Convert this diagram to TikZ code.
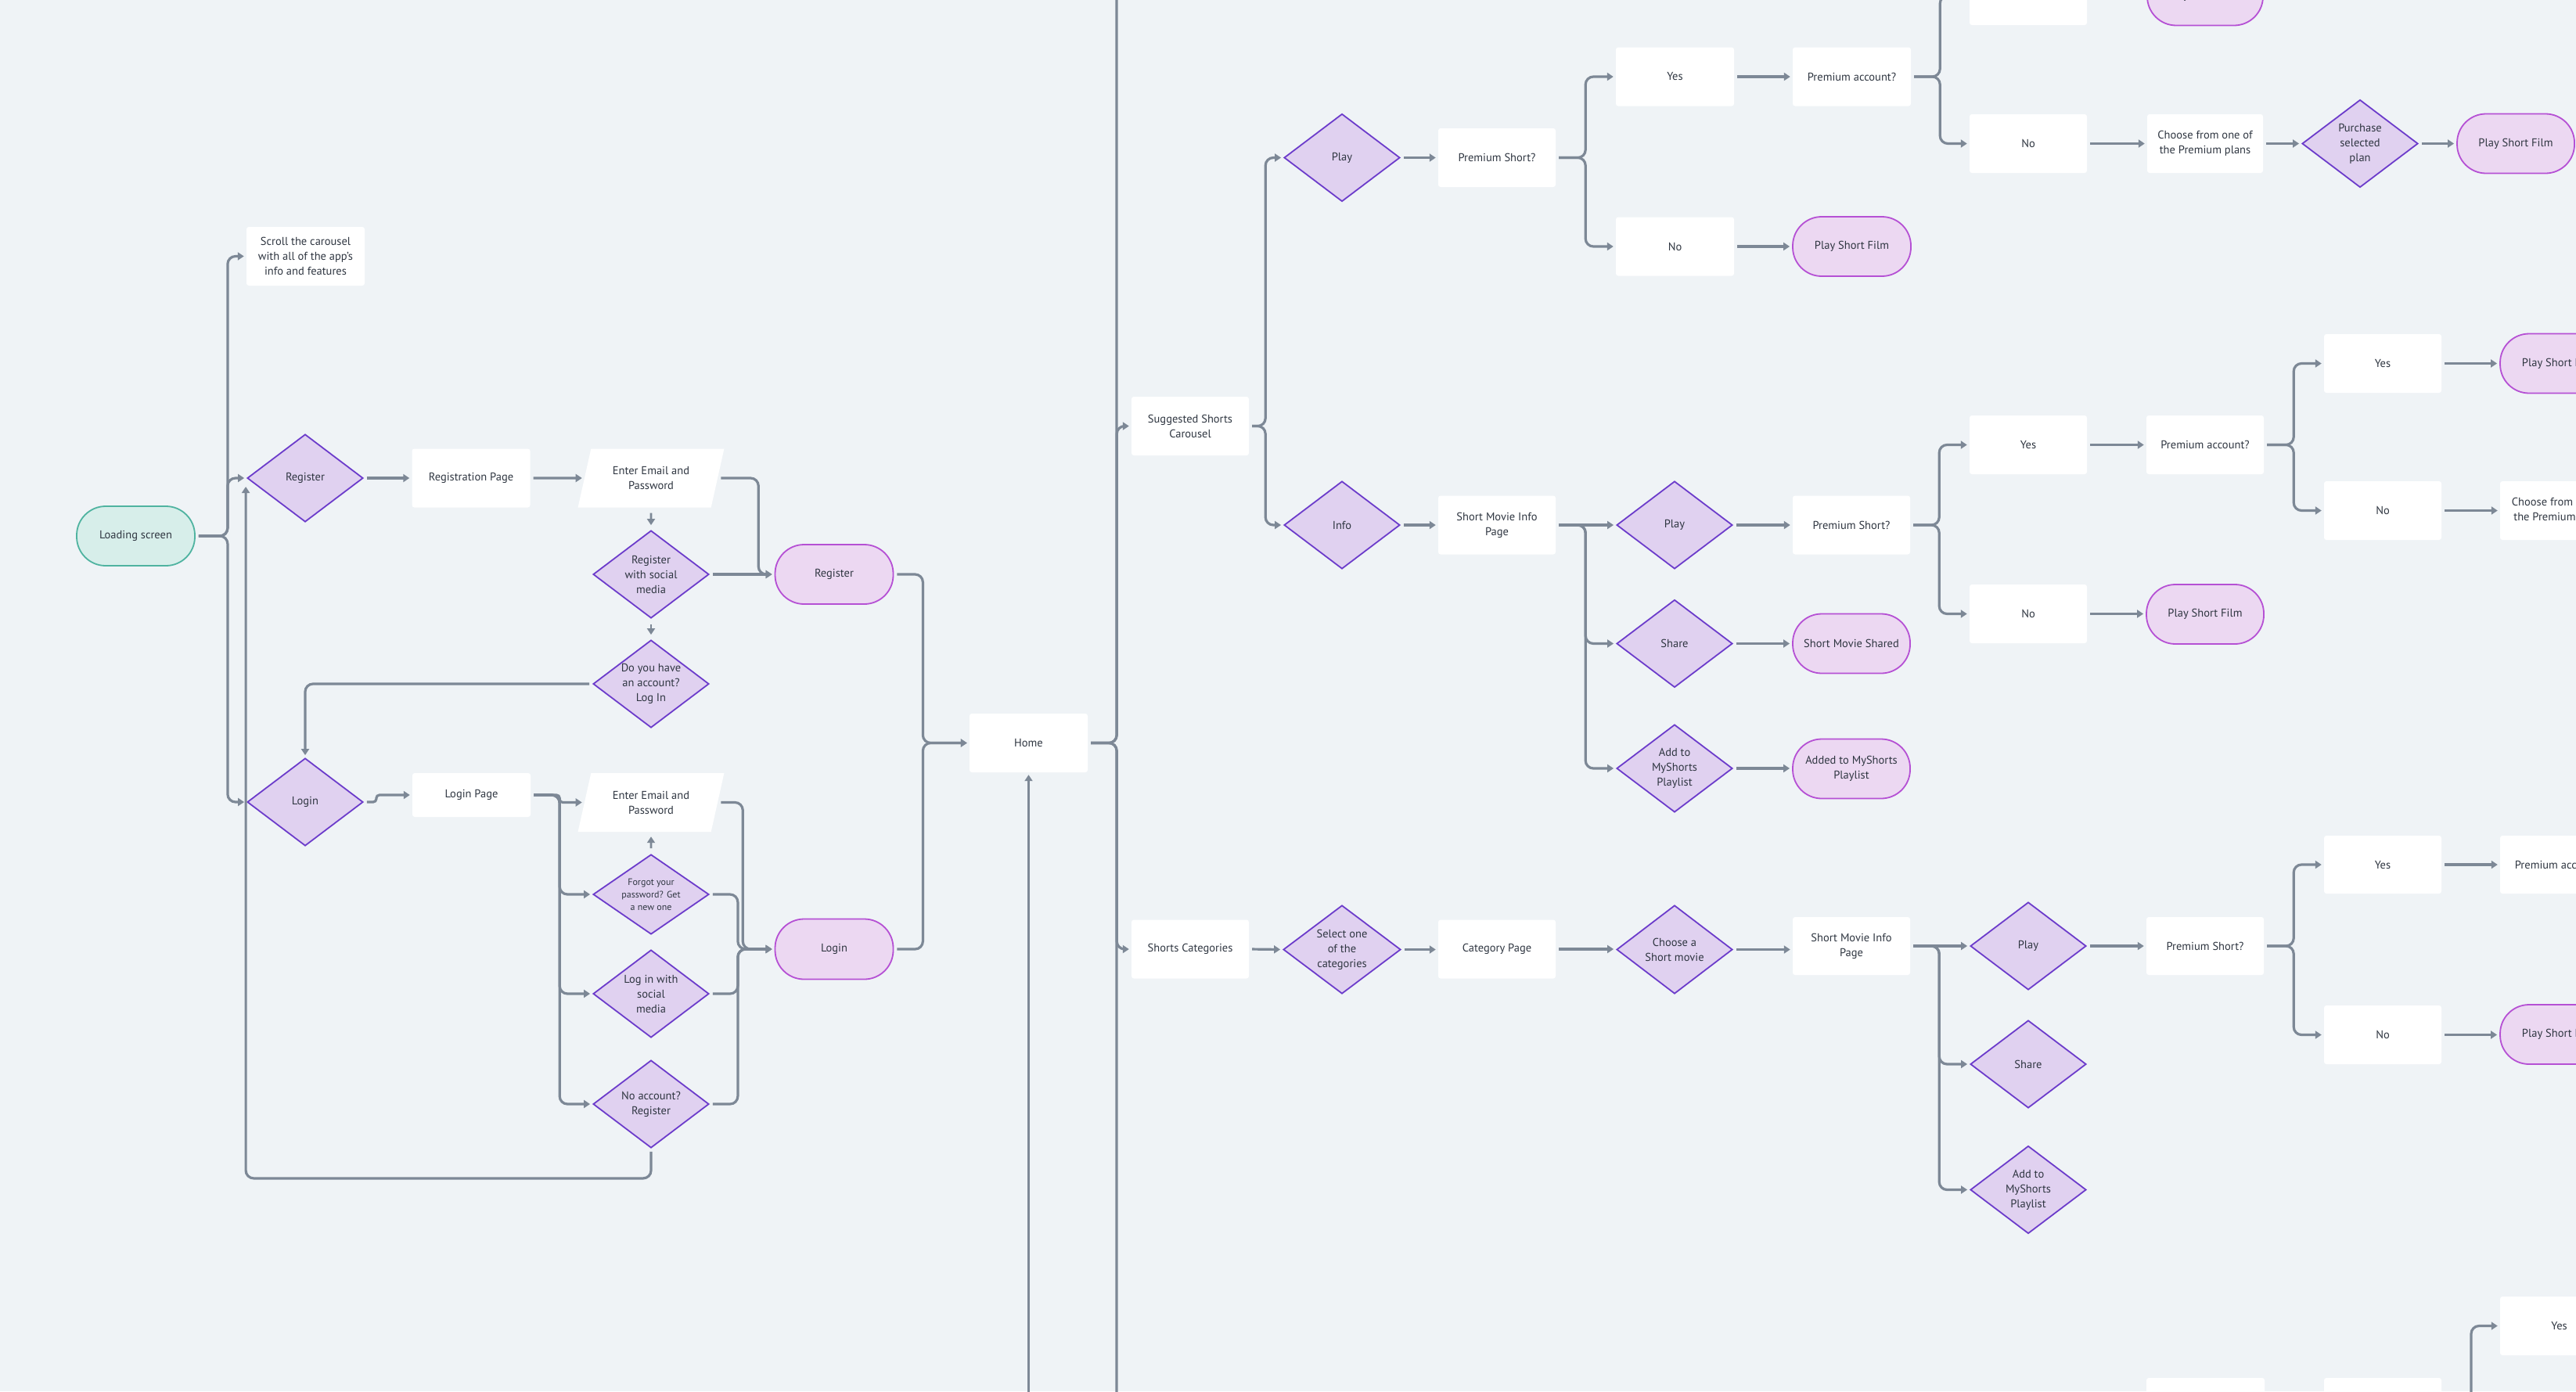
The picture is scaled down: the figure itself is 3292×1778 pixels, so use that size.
\documentclass[tikz,border=0pt]{standalone}
\usepackage{fontspec}
\setmainfont{PT Sans}
\usetikzlibrary{shapes.geometric,arrows.meta,calc}
\definecolor{bgc}{HTML}{EFF3F6}
\definecolor{linec}{HTML}{7D8896}
\definecolor{txtc}{HTML}{2F3641}
\definecolor{dfill}{HTML}{E0D1F0}
\definecolor{ddraw}{HTML}{6C3CCB}
\definecolor{tfill}{HTML}{ECD8F2}
\definecolor{tdraw}{HTML}{B550D4}
\definecolor{gfill}{HTML}{D7EEEA}
\definecolor{gdraw}{HTML}{4FB3A0}
\tikzset{
 base/.style={font=\fontsize{14.5}{19}\selectfont, text=txtc, align=center, inner sep=0pt},
 pagebox/.style={base, rectangle, fill=white, rounded corners=3pt, minimum width=151pt, minimum height=75pt},
 decision/.style={base, diamond, aspect=1.32, fill=dfill, draw=ddraw, line width=1.8pt, minimum width=148pt, minimum height=112pt},
 termnode/.style={base, rectangle, rounded corners=37pt, fill=tfill, draw=tdraw, line width=1.8pt, minimum width=151pt, minimum height=76pt},
 startnode/.style={termnode, fill=gfill, draw=gdraw},
 inputnode/.style={base, trapezium, trapezium left angle=70, trapezium right angle=110, trapezium stretches=true, fill=white, minimum width=187pt, minimum height=75pt},
 conn/.style={draw=linec, line width=3.2pt, rounded corners=10pt, -{Triangle[length=8pt,width=10pt]}, shorten >=3pt, shorten <=4pt},
 trunk/.style={draw=linec, line width=3.2pt, rounded corners=10pt, shorten <=4pt},
 smalltext/.style={font=\fontsize{12}{16}\selectfont},
}
\begin{document}
\begin{tikzpicture}[x=1pt,y=-1pt]
\useasboundingbox (0,0) rectangle (3292,1778);
\clip (0,0) rectangle (3292,1778);
\fill[bgc] (0,0) rectangle (3292,1778);

% ---------- left part: onboarding ----------
\node[startnode] (load) at (173.5,685) {Loading screen};
\node[pagebox] (scroll) at (390.5,327.5) {Scroll the carousel\\with all of the app’s\\info and features};
\node[decision] (reg) at (390,611) {Register};
\node[pagebox] (regpage) at (602,611) {Registration Page};
\node[inputnode] (email1) at (832,611) {Enter Email and\\Password};
\node[decision] (regsoc) at (832,734) {Register\\with social\\media};
\node[decision] (hasacc) at (832,874) {Do you have\\an account?\\Log In};
\node[termnode] (regterm) at (1066,734) {Register};

\node[decision] (login) at (390,1025) {Login};
\node[pagebox, minimum height=56pt] (loginpage) at (602.5,1016) {Login Page};
\node[inputnode] (email2) at (832,1025.5) {Enter Email and\\Password};
\node[decision, smalltext, minimum height=102pt] (forgot) at (832,1143) {Forgot your\\password? Get\\a new one};
\node[decision] (logsoc) at (832,1270) {Log in with\\social\\media};
\node[decision] (noacc) at (832,1411) {No account?\\Register};
\node[termnode, minimum height=77pt] (loginterm) at (1066,1213) {Login};

\node[pagebox] (home) at (1314.5,949.5) {Home};
\coordinate (ttop) at (1427,-30);
\coordinate (tbot) at (1427,1810);
\coordinate (hbot) at (1314.5,1810);

% ---------- suggested carousel ----------
\node[pagebox, minimum width=150pt] (sugg) at (1521,544.5) {Suggested Shorts\\Carousel};
\node[decision] (play1) at (1715,201.5) {Play};
\node[pagebox, minimum width=150pt] (premshort1) at (1913,201.5) {Premium Short?};
\node[pagebox] (yes1) at (2140.5,98) {Yes};
\node[pagebox] (no1) at (2140.5,315) {No};
\node[pagebox] (premacc1) at (2366.5,98) {Premium account?};
\node[termnode] (pshort1) at (2366.5,315) {Play Short Film};
\node[pagebox, minimum width=150pt] (yes1top) at (2592,-5.5) {Yes};
\node[termnode, minimum width=148pt] (pfilmtop) at (2818,-5.5) {Play Short Film};
\node[pagebox, minimum width=150pt] (no1b) at (2592,183.5) {No};
\node[pagebox, minimum width=148pt] (choose1) at (2818,183.5) {Choose from one of\\the Premium plans};
\node[decision] (purchase) at (3016,183.5) {Purchase\\selected\\plan};
\node[termnode, minimum width=150pt] (pfilm1b) at (3215,183.5) {Play Short Film};

\node[decision] (info) at (1715,671) {Info};
\node[pagebox, minimum width=150pt] (smip1) at (1913,671) {Short Movie Info\\Page};
\node[decision] (play2) at (2140,671) {Play};
\node[pagebox, minimum width=150pt] (premshort2) at (2366,671) {Premium Short?};
\node[decision] (share1) at (2140,822.5) {Share};
\node[termnode, minimum width=150pt] (shared) at (2366,822.5) {Short Movie Shared};
\node[decision] (add1) at (2140,982) {Add to\\MyShorts\\Playlist};
\node[termnode, minimum width=150pt] (added) at (2366,982.5) {Added to MyShorts\\Playlist};
\node[pagebox, minimum width=150pt] (yes2) at (2592,568.5) {Yes};
\node[pagebox, minimum width=150pt] (premacc2) at (2818,568.5) {Premium account?};
\node[pagebox, minimum width=150pt] (no2) at (2592,784.5) {No};
\node[termnode, minimum width=150pt] (pfilm2) at (2818,785) {Play Short Film};
\node[pagebox, minimum width=150pt] (yes3) at (3045,464.5) {Yes};
\node[termnode] (pfilm3) at (3270.5,464.5) {Play Short Film};
\node[pagebox, minimum width=150pt] (no3) at (3045,652.5) {No};
\node[pagebox] (choose3) at (3270.5,652.5) {Choose from one of\\the Premium plans};

% ---------- categories ----------
\node[pagebox, minimum width=150pt] (cats) at (1521,1213) {Shorts Categories};
\node[decision, minimum width=150pt, minimum height=113pt] (select) at (1715,1213.5) {Select one\\of the\\categories};
\node[pagebox, minimum width=150pt] (catpage) at (1913,1213) {Category Page};
\node[decision, minimum height=113pt] (choosesm) at (2140,1213.5) {Choose a\\Short movie};
\node[pagebox, minimum width=150pt, minimum height=74pt] (smip2) at (2366,1209) {Short Movie Info\\Page};
\node[decision] (play3) at (2592,1209) {Play};
\node[pagebox, minimum width=150pt, minimum height=74pt] (premshort3) at (2818,1209) {Premium Short?};
\node[decision] (share2) at (2592,1360) {Share};
\node[decision] (add2) at (2592,1520.5) {Add to\\MyShorts\\Playlist};
\node[pagebox, minimum width=150pt, minimum height=74pt] (yes4) at (3045,1105) {Yes};
\node[pagebox, minimum height=74pt] (premacc4) at (3270.5,1105) {Premium account?};
\node[pagebox, minimum width=150pt] (no4) at (3045,1322.5) {No};
\node[termnode] (pfilm4) at (3270.5,1322) {Play Short Film};
\node[pagebox] (yes5) at (3270.5,1694.5) {Yes};
\node[pagebox] (bx1) at (2818.5,1798.5) {};
\node[pagebox, minimum width=150pt] (bx2) at (3045,1798.5) {};
\coordinate (y5src) at (3158,1810);

% ---------- connectors: left ----------
\draw[conn] (load.east) -- ++(41,0) |- (scroll.west);
\draw[conn] (load.east) -- ++(41,0) |- (reg.west);
\draw[conn] (load.east) -- ++(41,0) |- (login.west);
\draw[conn] (reg.east) -- (regpage.west);
\draw[conn] (regpage.east) -- (email1.west);
\draw[conn] (email1.east) -- ++(52,0) |- (regterm.west);
\draw[conn, line width=2.6pt, shorten <=7pt, shorten >=6pt] (email1.south) -- (regsoc.north);
\draw[conn] (regsoc.east) -- (regterm.west);
\draw[conn, line width=2.6pt, shorten <=7pt, shorten >=6pt] (regsoc.south) -- (hasacc.north);
\draw[conn] (hasacc.west) -| (login.north);
\draw[conn] (regterm.east) -- ++(37,0) |- (home.west);
\draw[conn, rounded corners=4pt] (login.east) -- ++(16,0) |- (loginpage.west);
\draw[conn, rounded corners=4pt] (loginpage.east) -- ++(37,0) |- (email2.west);
\draw[conn] (loginpage.east) -- ++(37,0) |- (forgot.west);
\draw[conn] (loginpage.east) -- ++(37,0) |- (logsoc.west);
\draw[conn] (loginpage.east) -- ++(37,0) |- (noacc.west);
\draw[conn, line width=2.6pt, shorten <=7pt, shorten >=6pt] (forgot.north) -- (email2.south);
\draw[conn] (email2.east) -- ++(32,0) |- (loginterm.west);
\draw[conn] (forgot.east) -- ++(36,0) |- (loginterm.west);
\draw[conn] (logsoc.east) -- ++(36,0) |- (loginterm.west);
\draw[conn] (noacc.east) -- ++(36,0) |- (loginterm.west);
\draw[conn] (noacc.south) -- ++(0,38) -| ($(reg.west)+(-1,8)$);
\draw[conn] (loginterm.east) -- ++(37,0) |- (home.west);

% ---------- home trunk ----------
\draw[trunk] (home.east) -| (ttop);
\draw[trunk] (home.east) -| (tbot);
\draw[conn] (home.east) -- ++(37,0) |- (sugg.west);
\draw[conn] (home.east) -- ++(37,0) |- (cats.west);
\draw[conn, shorten <=0pt] (hbot) -- (home.south);

% ---------- suggested ----------
\draw[conn] (sugg.east) -- ++(21,0) |- (play1.west);
\draw[conn] (sugg.east) -- ++(21,0) |- (info.west);
\draw[conn] (play1.east) -- (premshort1.west);
\draw[conn] (premshort1.east) -- ++(38,0) |- (yes1.west);
\draw[conn] (premshort1.east) -- ++(38,0) |- (no1.west);
\draw[conn] (yes1.east) -- (premacc1.west);
\draw[conn] (no1.east) -- (pshort1.west);
\draw[conn] (premacc1.east) -- ++(37,0) |- (yes1top.west);
\draw[conn] (premacc1.east) -- ++(37,0) |- (no1b.west);
\draw[conn] (yes1top.east) -- (pfilmtop.west);
\draw[conn] (no1b.east) -- (choose1.west);
\draw[conn] (choose1.east) -- (purchase.west);
\draw[conn] (purchase.east) -- (pfilm1b.west);

\draw[conn] (info.east) -- (smip1.west);
\draw[conn] (smip1.east) -- (play2.west);
\draw[conn] (smip1.east) -- ++(38,0) |- (share1.west);
\draw[conn] (smip1.east) -- ++(38,0) |- (add1.west);
\draw[conn] (play2.east) -- (premshort2.west);
\draw[conn] (share1.east) -- (shared.west);
\draw[conn] (add1.east) -- (add1.east -| added.west);
\draw[conn] (premshort2.east) -- ++(37,0) |- (yes2.west);
\draw[conn] (premshort2.east) -- ++(37,0) |- (no2.west);
\draw[conn] (yes2.east) -- (premacc2.west);
\draw[conn] (no2.east) -- (no2.east -| pfilm2.west);
\draw[conn] (premacc2.east) -- ++(38,0) |- (yes3.west);
\draw[conn] (premacc2.east) -- ++(38,0) |- (no3.west);
\draw[conn] (yes3.east) -- (pfilm3.west);
\draw[conn] (no3.east) -- (choose3.west);

% ---------- categories ----------
\draw[conn] (cats.east) -- (select.west);
\draw[conn] (select.east) -- (select.east -| catpage.west);
\draw[conn] (catpage.east) -- (catpage.east -| choosesm.west);
\draw[conn] (choosesm.east) -- (choosesm.east -| smip2.west);
\draw[conn] (smip2.east) -- (play3.west);
\draw[conn] (smip2.east) -- ++(37,0) |- (share2.west);
\draw[conn] (smip2.east) -- ++(37,0) |- (add2.west);
\draw[conn] (play3.east) -- (premshort3.west);
\draw[conn] (premshort3.east) -- ++(38,0) |- (yes4.west);
\draw[conn] (premshort3.east) -- ++(38,0) |- (no4.west);
\draw[conn] (yes4.east) -- (premacc4.west);
\draw[conn] (no4.east) -- (no4.east -| pfilm4.west);
\draw[conn, shorten <=0pt] (y5src) |- (yes5.west);
\end{tikzpicture}
\end{document}
